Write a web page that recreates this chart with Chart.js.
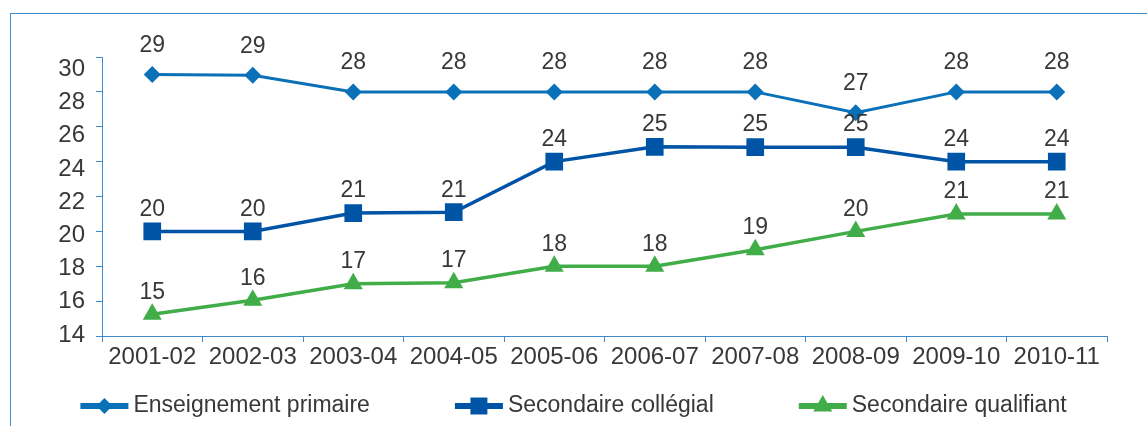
<!DOCTYPE html>
<html>
<head>
<meta charset="utf-8">
<title>Effectifs moyens par classe</title>
<script src="https://cdn.jsdelivr.net/npm/chart.js@4.4.1/dist/chart.umd.min.js"></script>
<style>
  html, body { margin: 0; padding: 0; background: #fff; }
  #wrap { position: relative; width: 1147px; height: 426px; overflow: hidden; }
  #frame {
    position: absolute; left: 10px; top: 13px; right: 0; bottom: 0;
    border-left: 1px solid #3d8bcb; border-top: 1px solid #3d8bcb;
  }
  canvas { position: absolute; left: 0; top: 0; }
</style>
</head>
<body>
<div id="wrap">
  <div id="frame"></div>
  <canvas id="chart" width="1147" height="426"></canvas>
</div>
<script>
const years = ["2001-02", "2002-03", "2003-04", "2004-05", "2005-06",
               "2006-07", "2007-08", "2008-09", "2009-10", "2010-11"];

const primaire   = [29.0, 28.95, 28.0, 28.0, 28.0, 28.0, 28.0, 26.8, 28.0, 28.0];
const collegial  = [20.0, 20.0, 21.05, 21.1, 24.0, 24.85, 24.83, 24.83, 24.0, 24.0];
const qualifiant = [15.25, 16.05, 17.0, 17.05, 18.0, 18.0, 18.95, 20.0, 21.0, 21.0];

const yTicks = [14, 16, 18, 20, 22, 24, 26, 28, 30];

const axisColor = "#3d8bcb";
const textColor = "#383838";
const fontFamily = '"Liberation Sans", Arial, sans-serif';

Chart.defaults.font.family = fontFamily;
Chart.defaults.color = textColor;

// rounded value written above each marker
const valueLabels = {
  id: "valueLabels",
  afterDatasetsDraw(chart) {
    const ctx = chart.ctx;
    ctx.save();
    ctx.font = `23px ${fontFamily}`;
    ctx.fillStyle = textColor;
    ctx.textAlign = "center";
    ctx.textBaseline = "middle";
    chart.data.datasets.forEach((ds, i) => {
      const meta = chart.getDatasetMeta(i);
      meta.data.forEach((pt, j) => {
        ctx.fillText(String(Math.round(ds.data[j])), pt.x, pt.y - ds.labelOffset);
      });
    });
    ctx.restore();
  }
};

// legend row: thick line sample with the marker on it, then the name
const lineLegend = {
  id: "lineLegend",
  afterDraw(chart) {
    const ctx = chart.ctx;
    const sample = 48, textGap = 5, itemGap = 85;
    const y = chart.height - 20;
    ctx.save();
    ctx.font = `23px ${fontFamily}`;
    const items = chart.data.datasets.map(ds => ({
      ds, w: sample + textGap + ctx.measureText(ds.label).width
    }));
    const total = items.reduce((s, it) => s + it.w, 0) + itemGap * (items.length - 1);
    let x = (chart.width - total) / 2;
    for (const { ds, w } of items) {
      ctx.strokeStyle = ds.borderColor;
      ctx.lineWidth = 6;
      ctx.beginPath();
      ctx.moveTo(x, y);
      ctx.lineTo(x + sample, y);
      ctx.stroke();
      ctx.fillStyle = ds.borderColor;
      Chart.helpers.drawPoint(ctx, {
        pointStyle: ds.pointStyle, radius: ds.legendRadius, rotation: 0, borderWidth: 0
      }, x + sample / 2, y);
      ctx.fillStyle = textColor;
      ctx.textAlign = "left";
      ctx.textBaseline = "middle";
      ctx.fillText(ds.label, x + sample + textGap, y);
      x += w + itemGap;
    }
    ctx.restore();
  }
};

new Chart(document.getElementById("chart"), {
  type: "line",
  data: {
    labels: years,
    datasets: [
      {
        label: "Enseignement primaire",
        data: primaire,
        borderColor: "#0a71b9",
        backgroundColor: "#0a71b9",
        borderWidth: 3,
        pointStyle: "rectRot",
        pointRadius: 8.5,
        pointBorderWidth: 0,
        labelOffset: 29,
        legendRadius: 8
      },
      {
        label: "Secondaire collégial",
        data: collegial,
        borderColor: "#0054a6",
        backgroundColor: "#0054a6",
        borderWidth: 3.5,
        pointStyle: "rect",
        pointRadius: 12.5,
        pointBorderWidth: 0,
        labelOffset: 22,
        legendRadius: 12
      },
      {
        label: "Secondaire qualifiant",
        data: qualifiant,
        borderColor: "#41ad49",
        backgroundColor: "#41ad49",
        borderWidth: 3.5,
        pointStyle: "triangle",
        pointRadius: 11,
        pointBorderWidth: 0,
        labelOffset: 22,
        legendRadius: 11
      }
    ]
  },
  options: {
    responsive: false,
    animation: false,
    devicePixelRatio: 1,
    layout: { padding: { top: 57, right: 40, bottom: 50, left: 0 } },
    plugins: {
      legend: { display: false },
      tooltip: { enabled: false }
    },
    elements: { line: { tension: 0, fill: false } },
    scales: {
      x: {
        offset: true,
        grid: { offset: true, drawOnChartArea: false, tickLength: 6, color: axisColor },
        border: { color: axisColor },
        ticks: { padding: 1, font: { size: 24 }, color: textColor, maxRotation: 0, autoSkip: false },
        afterFit: s => { s.height = 40; }
      },
      y: {
        position: "left",
        weight: 0,
        min: 14,
        max: 30,
        ticks: { display: false, stepSize: 2 },
        grid: { drawOnChartArea: false, tickLength: 6, color: axisColor },
        border: { color: axisColor },
        afterFit: s => { s.width = 6; }
      },
      // tick labels only, on their own slightly tighter spacing
      yl: {
        position: "left",
        weight: 1,
        min: 13.94,
        max: 30.75,
        afterBuildTicks: s => { s.ticks = yTicks.map(v => ({ value: v })); },
        grid: { display: false, drawTicks: false },
        border: { display: false },
        ticks: { padding: 11, font: { size: 24 }, color: textColor },
        afterFit: s => { s.width = 96; }
      }
    }
  },
  plugins: [valueLabels, lineLegend]
});
</script>
</body>
</html>
